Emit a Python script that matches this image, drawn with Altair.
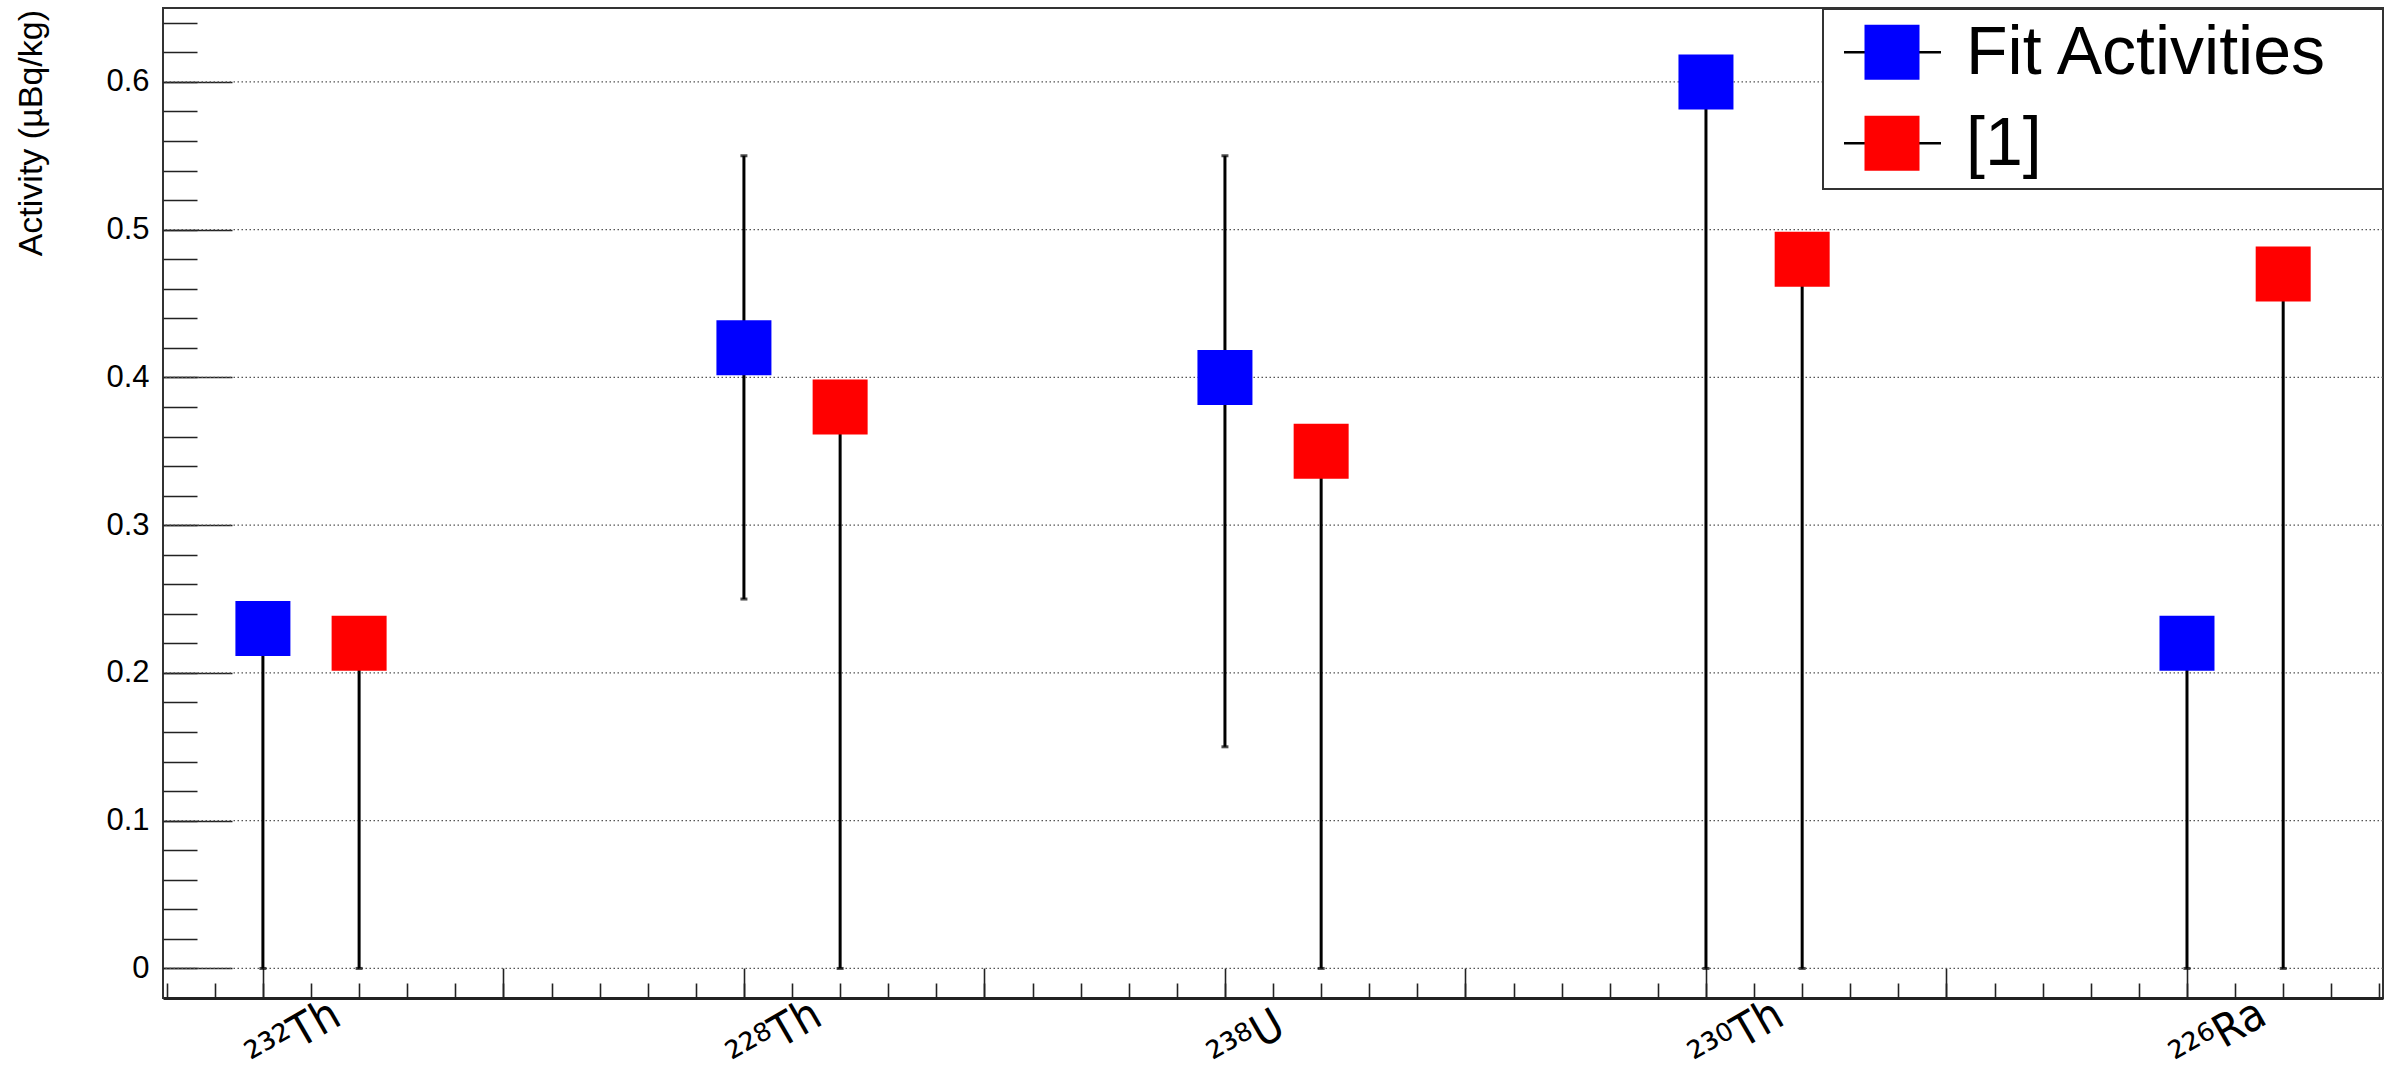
import altair as alt
import numpy as np
import pandas as pd

# Isotope labels: mass number (drawn as superscript) and element symbol
mass_numbers = ["232", "228", "238", "230", "226"]
elements = ["Th", "Th", "U", "Th", "Ra"]

# Series
series_names = ["Fit Activities", "[1]"]
series_colors = ["#0000ff", "#ff0000"]
series_shift = [0.0, 0.2]

# Fitted activities (µBq/kg) with error-bar limits
fit_values = [0.23, 0.42, 0.40, 0.60, 0.22]
fit_low = [0.0, 0.25, 0.15, 0.0, 0.0]
fit_high = [0.23, 0.55, 0.55, 0.60, 0.22]

# Reference [1] activities (upper limits drawn down to zero)
ref_values = [0.22, 0.38, 0.35, 0.48, 0.47]
ref_low = [0.0, 0.0, 0.0, 0.0, 0.0]
ref_high = [0.22, 0.38, 0.35, 0.48, 0.47]

y_title = "Activity (µBq/kg)"

# Axis ticks
y_major_ticks = [0.0, 0.1, 0.2, 0.3, 0.4, 0.5, 0.6]
y_minor_ticks = [round(v, 2) for v in np.arange(0.0, 0.645, 0.02)]
x_major_ticks = [round(v, 1) for v in np.arange(0.0, 4.01, 0.5)]
x_minor_ticks = [round(v, 1) for v in np.arange(-0.2, 4.41, 0.1)]

W, H = 2220, 990

rows = []
for name, shift, vals, lows, highs in zip(
    series_names, series_shift,
    [fit_values, ref_values], [fit_low, ref_low], [fit_high, ref_high],
):
    for i, (v, lo, hi) in enumerate(zip(vals, lows, highs)):
        rows.append({"series": name, "pos": i + shift, "value": v, "low": lo, "high": hi})
points = pd.DataFrame(rows)
caps = points.melt(id_vars=["series", "pos"], value_vars=["low", "high"], value_name="end")

# "232" + "Th" -> "²³²Th"
SUPERSCRIPT = str.maketrans("0123456789", "⁰¹²³⁴⁵⁶⁷⁸⁹")
labels = pd.DataFrame({
    "pos": list(range(len(elements))),
    "label": [m.translate(SUPERSCRIPT) + e for m, e in zip(mass_numbers, elements)],
})

xs = alt.Scale(domain=[-0.2077, 4.4075], nice=False, zero=False)
ys = alt.Scale(domain=[-0.02, 0.65], nice=False, zero=False)
color = alt.Color("series:N", scale=alt.Scale(domain=series_names, range=series_colors), legend=None)

TICK = "#222222"

y_major_axis = alt.Axis(
    orient="left", values=y_major_ticks, offset=-69, tickSize=69, tickWidth=1.6, tickColor=TICK,
    domain=False, grid=False, title=None, labelFont="Liberation Sans", labelFontSize=31,
    labelColor="black", labelPadding=14, labelOverlap=False, labelFlush=False,
    labelExpr="datum.value == 0 ? '0' : format(datum.value, '.1f')",
)
y_minor_axis = alt.Axis(
    orient="left", values=y_minor_ticks, offset=-34, tickSize=34, tickWidth=1.6, tickColor=TICK,
    domain=False, grid=False, labels=False, title=None,
)
x_major_axis = alt.Axis(
    orient="bottom", values=x_major_ticks, offset=-30, tickSize=30, tickWidth=1.6, tickColor=TICK,
    domain=False, grid=False, labels=False, title=None,
)
x_minor_axis = alt.Axis(
    orient="bottom", values=x_minor_ticks, offset=-15, tickSize=15, tickWidth=1.6, tickColor=TICK,
    domain=False, grid=False, labels=False, title=None,
)
x_frame_axis = alt.Axis(
    orient="bottom", domain=True, domainWidth=3, domainColor=TICK, ticks=False,
    grid=False, labels=False, title=None,
)

# Dotted horizontal grid at the major y ticks
grid = alt.Chart(pd.DataFrame({"v": y_major_ticks})).mark_rule(
    color="#555555", strokeWidth=1.2, strokeDash=[1.5, 2.5]
).encode(y=alt.Y("v:Q", scale=ys, axis=y_major_axis))

# Error bars
bars = alt.Chart(points).mark_rule(color="black", strokeWidth=3).encode(
    x=alt.X("pos:Q", scale=xs, axis=x_minor_axis),
    y=alt.Y("low:Q", scale=ys, axis=y_minor_axis),
    y2="high:Q",
)
bar_caps = alt.Chart(caps).mark_tick(orient="horizontal", color="black", size=7, thickness=3).encode(
    x=alt.X("pos:Q", scale=xs, axis=x_frame_axis),
    y=alt.Y("end:Q", scale=ys, axis=None),
)

# Square markers
markers = alt.Chart(points).mark_square(size=3025, filled=True, opacity=1).encode(
    x=alt.X("pos:Q", scale=xs, axis=x_major_axis),
    y=alt.Y("value:Q", scale=ys, axis=None),
    color=color,
)

# Rotated isotope labels below the axis
iso_text = alt.Chart(labels).mark_text(
    angle=330, align="left", baseline="alphabetic", dx=-6,
    font="DejaVu Sans Condensed", fontSize=45, color="black",
).encode(x=alt.X("pos:Q", scale=xs, axis=None), y=alt.value(1062), text="label:N")

# Y-axis title, right-aligned to the top of the axis
title = alt.Chart(pd.DataFrame({"t": [y_title]})).mark_text(
    angle=270, align="right", baseline="alphabetic", font="Liberation Sans", fontSize=34, color="black",
).encode(x=alt.value(-121), y=alt.value(2), text="t:N")

# Legend box in the top-right corner
one = pd.DataFrame({"k": [0]})
legend_layers = [
    alt.Chart(one).mark_rect(fill="white", stroke="#333333", strokeWidth=2).encode(
        x=alt.value(1660), x2=alt.value(W), y=alt.value(1), y2=alt.value(181)
    )
]
for k, (name, col) in enumerate(zip(series_names, series_colors)):
    ly = 44.3 + 91 * k
    legend_layers.append(
        alt.Chart(one).mark_rule(color="black", strokeWidth=2.5).encode(
            x=alt.value(1681), x2=alt.value(1778), y=alt.value(ly)
        )
    )
    legend_layers.append(
        alt.Chart(one).mark_square(size=3025, filled=True, opacity=1, color=col).encode(
            x=alt.value(1729), y=alt.value(ly)
        )
    )
    legend_layers.append(
        alt.Chart(pd.DataFrame({"t": [name]})).mark_text(
            align="left", baseline="alphabetic", font="Liberation Sans", fontSize=68, color="black"
        ).encode(x=alt.value(1803), y=alt.value(ly + 22), text="t:N")
    )

chart = alt.layer(
    grid, bars, bar_caps, markers, iso_text, title, *legend_layers
).resolve_axis(
    x="independent", y="independent"
).properties(
    width=W, height=H,
    autosize=alt.AutoSizeParams(type="none"),
    padding={"left": 163, "top": 8, "right": 9, "bottom": 90},
    background="white",
).configure_view(stroke="#333333", strokeWidth=2)

chart.save("out.html", embed_options={"renderer": "svg", "actions": False})
